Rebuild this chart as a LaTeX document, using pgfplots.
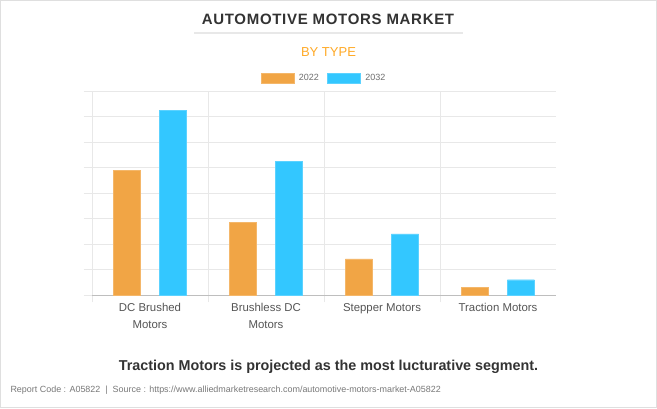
\documentclass[border=0pt]{standalone}
\usepackage{fontspec}
\setmainfont{Liberation Sans}
\usepackage{pgfplots}
\pgfplotsset{compat=1.18}
\definecolor{c22}{RGB}{241,165,69}
\definecolor{c32}{RGB}{51,199,255}
\definecolor{titlegray}{RGB}{51,51,51}
\definecolor{bytype}{RGB}{255,170,40}
\definecolor{gridc}{RGB}{232,232,232}
\definecolor{basec}{RGB}{190,190,190}
\definecolor{labelgray}{RGB}{85,85,85}
\definecolor{legendgray}{RGB}{110,110,110}
\definecolor{footgray}{RGB}{120,120,120}
\begin{document}
\begin{tikzpicture}
\useasboundingbox (0pt,0pt) rectangle (657pt,408pt);
\fill[white] (0pt,0pt) rectangle (657pt,408pt);
\draw[gray!25, line width=1pt] (0.5pt,0.5pt) rectangle (656.5pt,407.5pt);
\node[font=\fontsize{15}{18}\selectfont\bfseries\addfontfeature{LetterSpace=4.6}, text=titlegray] at (328pt,389pt) {AUTOMOTIVE MOTORS MARKET};
\draw[gridc, line width=1.5pt] (194pt,375pt) -- (463pt,375pt);
\node[font=\fontsize{13}{15}\selectfont, text=bytype] at (328.5pt,356pt) {BY TYPE};
\begin{axis}[
  at={(92pt,113pt)}, anchor=south west,
  scale only axis, width=464pt, height=204pt,
  xmin=-0.5, xmax=3.5, ymin=0, ymax=8,
  ybar=19pt, bar width=27pt,
  ytick={0,...,8}, yticklabels={},
  xtick={0,1,2,3},
  xticklabels={{DC Brushed\\Motors},{Brushless DC\\Motors},{Stepper Motors},{Traction Motors}},
  minor xtick={-0.5,0.5,1.5,2.5},
  xticklabel style={align=center, font=\fontsize{11.4}{17}\selectfont, text=labelgray, anchor=north, yshift=3pt},
  ymajorgrids=true, xminorgrids=true,
  grid style={gridc}, minor grid style={gridc},
  tick align=outside,
  major x tick style={draw=none},
  minor x tick style={gridc},
  ytick style={gridc},
  minor tick length=7pt, major tick length=8pt,
  axis x line*=bottom, axis y line*=left,
  x axis line style={-, draw=basec},
  y axis line style={-, draw=gridc},
  legend style={at={(0.5,1)}, anchor=center, yshift=13pt, draw=none, fill=none,
    legend columns=2, font=\fontsize{9}{10}\selectfont, text=legendgray,
    /tikz/every even column/.append style={column sep=6pt},
    /tikz/every odd column/.append style={column sep=3pt}, inner sep=0pt},
  legend image code/.code={\fill[#1] (0pt,-5pt) rectangle (33pt,5pt);},
]
\addplot[fill=c22, draw=c22!80!white] coordinates {(0,4.9) (1,2.86) (2,1.42) (3,0.29)};
\addplot[fill=c32, draw=c32!80!white] coordinates {(0,7.25) (1,5.24) (2,2.40) (3,0.6)};
\legend{2022,2032}
\end{axis}
\node[font=\bfseries\fontsize{14.35}{16}\selectfont, text=titlegray] at (328.5pt,41pt) {Traction Motors is projected as the most lucturative segment.};
\node[font=\fontsize{8.95}{10}\selectfont, text=footgray, anchor=west] at (7pt,18pt) {Report Code : A05822 \ | \ Source : https://www.alliedmarketresearch.com/automotive-motors-market-A05822};
\end{tikzpicture}
\end{document}
